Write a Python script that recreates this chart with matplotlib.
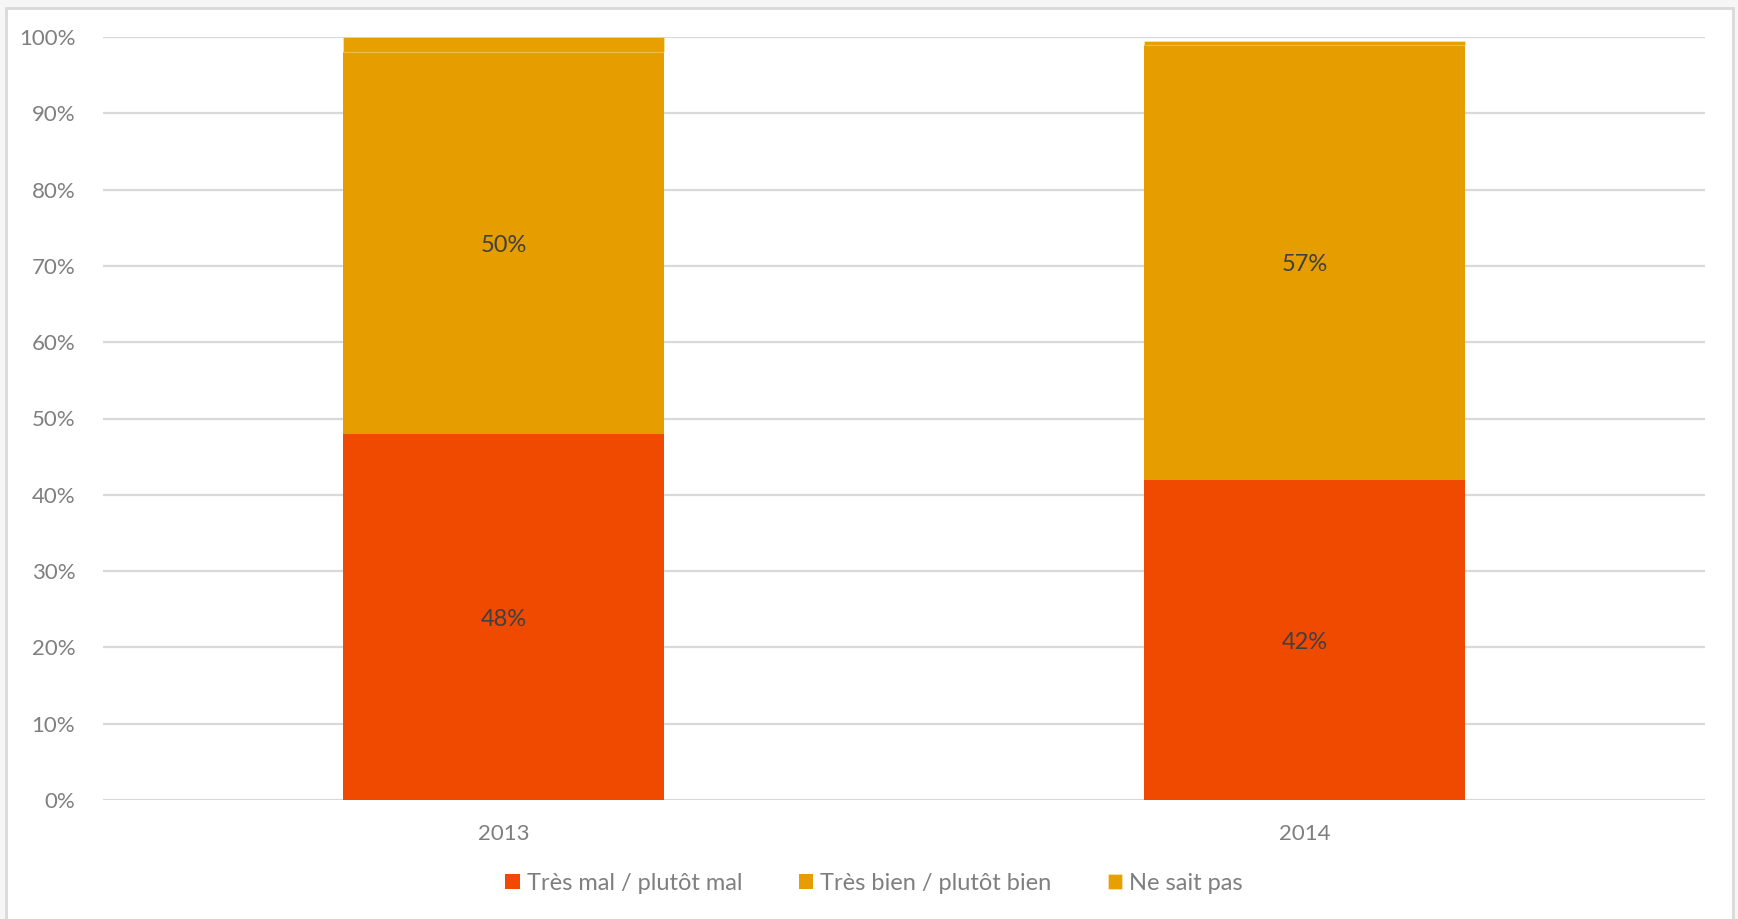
import matplotlib
matplotlib.use("Agg")
import matplotlib.pyplot as plt
from matplotlib.patches import Rectangle
from matplotlib.ticker import MultipleLocator, FuncFormatter
import numpy as np

# =======================
# DATA
# =======================

years = ["2013", "2014"]
tres_mal = [48, 42]
tres_bien = [50, 57]
ne_sait_pas = [2, 0.5]

series_names = ["Très mal / plutôt mal", "Très bien / plutôt bien", "Ne sait pas"]
colors = ["#F04900", "#E69D00", "#E8A000"]

plt.rcParams["font.family"] = ["Lato", "DejaVu Sans"]

fig = plt.figure(figsize=(17.38, 9.19), dpi=100)
fig.patch.set_facecolor("#F6F6F6")

# white panel with light frame
fig.patches.append(Rectangle((6 / 1738, -0.05), (1733 - 6) / 1738, 1 - 8 / 919 + 0.05,
                             transform=fig.transFigure, facecolor="white",
                             edgecolor="#D9D9D9", linewidth=2, zorder=-5))

ax = fig.add_axes([103 / 1738, 1 - 800 / 919, (1705 - 103) / 1738, (800 - 37) / 919])
ax.set_facecolor("none")
ax.set_zorder(2)

x = np.arange(len(years))
w = 0.4
bottoms = np.zeros(len(years))
for vals, name, col in zip([tres_mal, tres_bien, ne_sait_pas], series_names, colors):
    vals = np.array(vals, dtype=float)
    edge = (1, 1, 1, 0.3) if name == "Ne sait pas" else "none"
    ax.bar(x, vals, w, bottom=bottoms, color=col, label=name,
           edgecolor=edge, linewidth=0.8, zorder=3)
    if name != "Ne sait pas":
        for xi, b, v in zip(x, bottoms, vals):
            ax.annotate(f"{v:.0f}%", (xi, b + v / 2), xytext=(0, -2),
                        textcoords="offset points", ha="center", va="center",
                        fontsize=17, color="#404040", zorder=4)
    bottoms += vals

ax.set_xlim(-0.5, 1.5)
ax.set_ylim(0, 100)
ax.yaxis.set_major_locator(MultipleLocator(10))
ax.yaxis.set_major_formatter(FuncFormatter(lambda v, p: f"{v:.0f}%"))
ax.set_xticks(x)
ax.set_xticklabels(years)
ax.tick_params(axis="both", length=0, labelsize=16, labelcolor="#7F7F7F")
ax.tick_params(axis="y", pad=20)
ax.tick_params(axis="x", pad=17)
ax.grid(axis="y", color="#D9D9D9", linewidth=1.6, zorder=0)
ax.set_axisbelow(True)
for s in ax.spines.values():
    s.set_visible(False)

leg = fig.legend(loc="center", bbox_to_anchor=(0.503, 0.039), ncol=3, frameon=False,
                 fontsize=17, handlelength=0.6, handleheight=0.6, handletextpad=0.3,
                 columnspacing=2.4)
for t in leg.get_texts():
    t.set_color("#7F7F7F")

fig.savefig("out.png", dpi=100, facecolor=fig.get_facecolor())
